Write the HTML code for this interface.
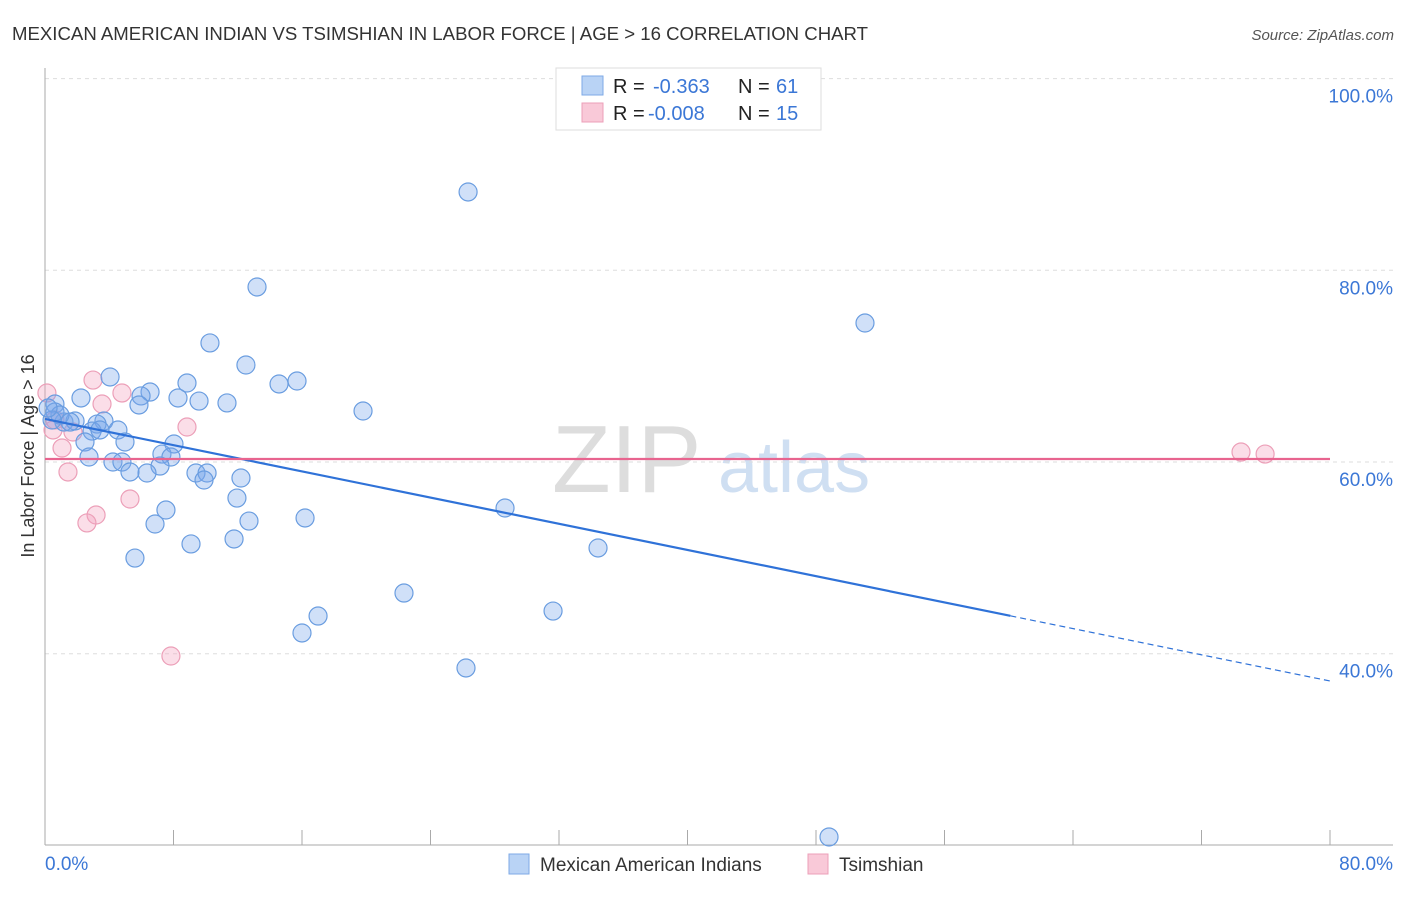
<!DOCTYPE html>
<html><head><meta charset="utf-8"><style>
body{margin:0;background:#fff;font-family:"Liberation Sans",sans-serif;}
svg text{font-family:"Liberation Sans",sans-serif;}
</style></head><body>
<svg id="chart" width="1406" height="892" xmlns="http://www.w3.org/2000/svg">
<text x="12" y="40" font-size="18" fill="#333" textLength="856" lengthAdjust="spacingAndGlyphs">MEXICAN AMERICAN INDIAN VS TSIMSHIAN IN LABOR FORCE | AGE &gt; 16 CORRELATION CHART</text>
<text x="1394" y="40" font-size="15" fill="#555" font-style="italic" text-anchor="end">Source: ZipAtlas.com</text>
<g>
<text x="552" y="492" font-size="96" fill="#ddd" font-family="Liberation Serif, serif">ZIP</text>
<text x="718" y="492" font-size="72" fill="#cfdff2">atlas</text>
</g>
<g id="grid"></g><g id="axes"></g><g id="marks"></g>
<g>
<rect x="556" y="68" width="265" height="62" fill="#fff" stroke="#ddd"/>
<rect x="582" y="76" width="21" height="19" fill="#b9d3f5" stroke="#7ea9e6"/>
<text x="613" y="93" font-size="20" fill="#222">R =</text>
<text x="653" y="93" font-size="20" fill="#3b77d6">-0.363</text>
<text x="738" y="93" font-size="20" fill="#222">N =</text>
<text x="776" y="93" font-size="20" fill="#3b77d6">61</text>
<rect x="582" y="103" width="21" height="19" fill="#f9c9d8" stroke="#ec9fb8"/>
<text x="613" y="120" font-size="20" fill="#222">R =</text>
<text x="648" y="120" font-size="20" fill="#3b77d6">-0.008</text>
<text x="738" y="120" font-size="20" fill="#222">N =</text>
<text x="776" y="120" font-size="20" fill="#3b77d6">15</text>
</g>
<g>
<rect x="509" y="854" width="20" height="20" fill="#b9d3f5" stroke="#7ea9e6"/>
<text x="540" y="871" font-size="19" fill="#333">Mexican American Indians</text>
<rect x="808" y="854" width="20" height="20" fill="#f9c9d8" stroke="#ec9fb8"/>
<text x="839" y="871" font-size="19" fill="#333">Tsimshian</text>
</g>
<text transform="translate(34,456) rotate(-90)" font-size="18" fill="#333" text-anchor="middle">In Labor Force | Age &gt; 16</text>
</svg>
<script>
const blueX=[26.34,13.20,51.05,10.27,12.51,4.05,8.84,15.69,14.57,6.54,5.98,8.28,9.59,2.24,5.85,11.33,19.80,3.67,3.24,1.18,1.87,4.54,2.93,3.42,4.98,8.03,2.49,7.28,7.84,2.74,4.23,4.79,7.16,6.35,5.29,9.40,10.09,9.90,12.20,11.95,7.53,28.64,12.70,16.19,6.85,11.77,9.09,34.43,5.60,22.35,31.63,17.00,16.00,26.21,48.81,0.62,0.62,0.93,0.44,1.56,0.19];
const blueY=[88.17,78.26,74.50,72.42,70.12,68.87,68.24,68.45,68.14,67.30,66.89,66.68,66.36,66.68,65.95,66.16,65.32,64.28,63.96,64.17,64.28,63.34,63.23,63.34,62.09,61.88,62.09,60.83,60.52,60.52,60.00,60.00,59.58,58.85,58.96,58.85,58.85,58.12,58.33,56.24,54.99,55.20,53.84,54.16,53.53,51.97,51.45,51.03,49.98,46.33,44.45,43.93,42.16,38.51,20.88,66.05,65.22,64.90,64.38,64.17,65.63];
const pinkX=[0.12,2.99,4.79,3.55,0.50,8.84,1.74,1.06,1.43,5.29,3.18,2.61,7.84,74.46,75.96,0.62];
const pinkY=[67.20,68.55,67.20,66.05,63.34,63.65,63.13,61.46,58.96,56.14,54.47,53.64,39.76,61.04,60.83,64.38];
const blueTrend=[64.49,37.15]; const blueSolidEnd=60.1;
const pinkTrend=[60.31,60.31];
const yTicks=[100,80,60,40]; const yTickLabels=["100.0%","80.0%","60.0%","40.0%"];
const xTicks=[0,8,16,24,32,40,48,56,64,72,80];
const xAxisLabels=["0.0%","80.0%"];
const NS="http://www.w3.org/2000/svg";
const xs=v=>45+v/80*1285, ys=v=>462-(v-60)*9.585;
function mk(t,a,p){const e=document.createElementNS(NS,t);for(const k in a)e.setAttribute(k,a[k]);p.appendChild(e);return e;}
const grid=document.getElementById('grid'),axes=document.getElementById('axes'),marks=document.getElementById('marks');
yTicks.forEach((t,i)=>{
 const l=mk('line',{x1:45,x2:1393,y1:ys(t),y2:ys(t),stroke:'#ddd','stroke-dasharray':'4,4'},grid);
 
 
 const tx=mk('text',{x:1393,y:ys(t)+24,'font-size':19,fill:'#3b77d6','text-anchor':'end'},axes);
 tx.textContent=yTickLabels[i];
 
 
});
const ya=mk('line',{x1:45,x2:45,y1:68,y2:845,stroke:'#aaa'},axes);


const xa=mk('line',{x1:45,x2:1393,y1:845,y2:845,stroke:'#aaa'},axes);


xTicks.forEach(v=>{const t=mk('line',{x1:xs(v),x2:xs(v),y1:830,y2:845,stroke:'#aaa'},axes);
 
 });
const xl0=mk('text',{x:45,y:870,'font-size':19,fill:'#3b77d6'},axes);xl0.textContent=xAxisLabels[0];


const xl1=mk('text',{x:1393,y:870,'font-size':19,fill:'#3b77d6','text-anchor':'end'},axes);xl1.textContent=xAxisLabels[1];


pinkX.forEach((x,i)=>{const c=mk('circle',{cx:xs(x),cy:ys(pinkY[i]),r:9,fill:'rgba(244,160,188,0.35)',stroke:'#ec9fb8','stroke-width':1.2},marks);
 
 });
blueX.forEach((x,i)=>{const c=mk('circle',{cx:xs(x),cy:ys(blueY[i]),r:9,fill:'rgba(120,165,235,0.35)',stroke:'#6a9de0','stroke-width':1.2},marks);
 
 });
const by=v=>blueTrend[0]+(blueTrend[1]-blueTrend[0])*v/80;
const b1=mk('line',{x1:xs(0),y1:ys(by(0)),x2:xs(blueSolidEnd),y2:ys(by(blueSolidEnd)),stroke:'#2f72d8','stroke-width':2.2},marks);


const b2=mk('line',{x1:xs(blueSolidEnd),y1:ys(by(blueSolidEnd)),x2:xs(80),y2:ys(by(80)),stroke:'#2f72d8','stroke-width':1.2,'stroke-dasharray':'6,4'},marks);


const p1=mk('line',{x1:xs(0),y1:ys(pinkTrend[0]),x2:xs(80),y2:ys(pinkTrend[1]),stroke:'#e8648f','stroke-width':2.2},marks);


</script>
</body></html>
